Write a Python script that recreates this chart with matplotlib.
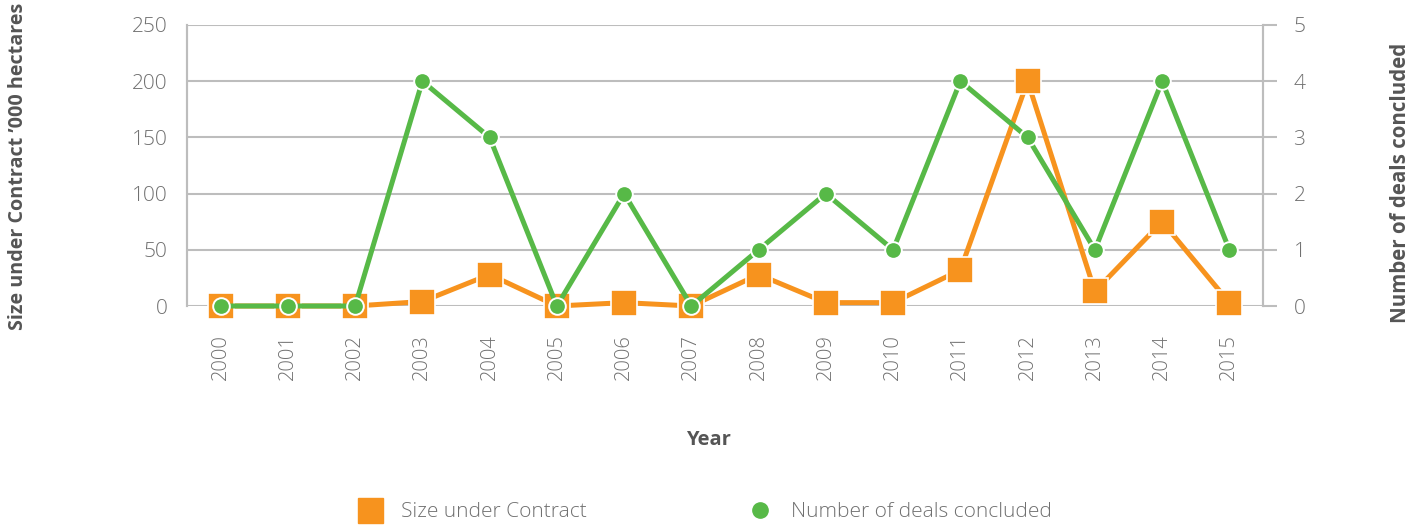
import matplotlib.pyplot as plt
from matplotlib.lines import Line2D

plt.rcParams['font.family'] = ['Open Sans', 'DejaVu Sans']

years = ['2000', '2001', '2002', '2003', '2004', '2005', '2006', '2007',
         '2008', '2009', '2010', '2011', '2012', '2013', '2014', '2015']
size_contract = [0, 0, 0, 4, 28, 0, 3, 0, 28, 3, 3, 32, 200, 13, 75, 3]
deals = [0, 0, 0, 4, 3, 0, 2, 0, 1, 2, 1, 4, 3, 1, 4, 1]

orange = '#F7931E'
green = '#57B947'
grid_c = '#BDBDBD'
tick_c = '#707070'
label_c = '#555555'

W, H = 1422, 527
fig = plt.figure(figsize=(W / 100, H / 100), dpi=100)
ax1 = fig.add_axes([187 / W, (H - 306) / H, (1263 - 187) / W, (306 - 25) / H])
ax2 = ax1.twinx()

x = list(range(len(years)))

ax1.plot(x, size_contract, color=orange, lw=3.6, marker='s', ms=19,
         mfc=orange, mec='white', mew=1.2, zorder=3, clip_on=False)
ax2.plot(x, deals, color=green, lw=3.6, marker='o', ms=12,
         mfc=green, mec='white', mew=1.4, zorder=3, clip_on=False)

ax1.set_xlim(-0.5, len(years) - 0.5)
ax1.set_ylim(0, 250)
ax2.set_ylim(0, 5)
ax1.set_yticks(range(0, 251, 50))
ax2.set_yticks(range(0, 6))

ax1.set_xticks(x)
ax1.set_xticklabels(years, rotation=90, fontweight='light')
ax1.tick_params(axis='x', length=0, pad=20, labelsize=14.5, labelcolor=tick_c)
ax1.tick_params(axis='y', length=0, pad=14, labelsize=15, labelcolor=tick_c)
ax2.tick_params(axis='y', length=10, width=1.5, color=grid_c, pad=12,
                labelsize=15, labelcolor=tick_c)
for lbl in ax1.get_yticklabels() + ax2.get_yticklabels():
    lbl.set_fontweight('light')

ax1.yaxis.grid(True, color=grid_c, lw=1.5)
ax1.set_axisbelow(True)

for ax in (ax1, ax2):
    ax.spines['top'].set_visible(False)
    ax.spines['bottom'].set_visible(False)
    ax.spines['left'].set_color(grid_c)
    ax.spines['right'].set_color(grid_c)
    ax.spines['left'].set_linewidth(1.5)
    ax.spines['right'].set_linewidth(1.5)

fig.text(708 / W, 1 - 440 / H, 'Year', ha='center', va='center',
         fontsize=14.5, fontweight='bold', color=label_c)
fig.text(18 / W, 1 - 166 / H, "Size under Contract \u2019000 hectares",
         ha='center', va='center', rotation=90, fontsize=14.2,
         fontweight='bold', color=label_c)
fig.text(1401 / W, 1 - 183 / H, 'Number of deals concluded',
         ha='center', va='center', rotation=90, fontsize=14.8,
         fontweight='bold', color=label_c)

handles = [
    Line2D([], [], ls='none', marker='s', ms=18, mfc=orange, mec=orange),
    Line2D([], [], ls='none', marker='o', ms=11, mfc=green, mec=green),
]
fig.legend(handles, ['Size under Contract', 'Number of deals concluded'],
           loc='center', bbox_to_anchor=(706 / W, 15 / H), ncol=2,
           frameon=False, handlelength=1, handletextpad=1.0,
           columnspacing=7.8, labelcolor=tick_c,
           prop={'size': 15.0, 'weight': 'light'})

fig.savefig('out.png', dpi=100)
